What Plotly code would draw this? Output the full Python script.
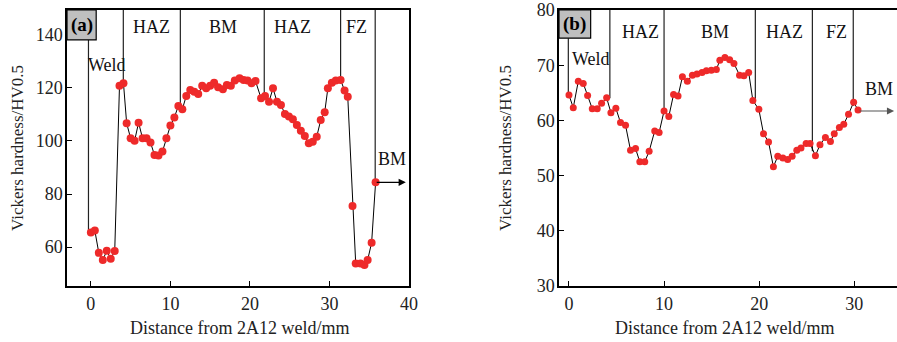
import plotly.graph_objects as go

# ---------------- data ----------------
# Panel (a)
dist_a = [0, 0.5, 1.0, 1.5, 2.0, 2.5, 3.0, 3.6, 4.1, 4.5, 5.0, 5.5, 6.0, 6.5, 7.0, 7.5,
          8.0, 8.5, 9.0, 9.5, 10.0, 10.5, 11.0, 11.5, 12.0, 12.5, 13.0, 13.5, 14.0, 14.5,
          15.0, 15.5, 16.0, 16.6, 17.1, 17.6, 18.1, 18.7, 19.2, 19.7, 20.2, 20.7, 21.4,
          21.9, 22.4, 22.9, 23.4, 23.9, 24.4, 24.9, 25.4, 25.9, 26.4, 26.9, 27.4, 27.9,
          28.4, 28.9, 29.4, 29.8, 30.3, 30.8, 31.4, 31.9, 32.3, 32.9, 33.3, 33.9, 34.4,
          34.8, 35.3, 35.8]
hv_a = [65.5, 66.2, 57.8, 55.1, 58.6, 55.6, 58.5, 120.8, 121.8, 106.7, 101.0, 100.1,
        106.9, 101.0, 101.0, 99.4, 94.7, 94.5, 96.0, 101.0, 105.8, 108.9, 113.2, 112.0,
        117.0, 119.2, 118.6, 117.7, 120.8, 119.9, 120.8, 122.0, 120.3, 119.5, 121.1,
        120.8, 122.8, 123.7, 123.0, 122.8, 121.8, 122.6, 116.1, 117.0, 114.8, 119.9,
        114.8, 113.6, 110.2, 109.2, 108.2, 106.0, 103.9, 101.9, 99.1, 99.7, 101.6, 107.9,
        110.8, 119.9, 122.0, 122.8, 123.0, 119.0, 116.7, 75.5, 53.8, 53.8, 53.2, 55.1,
        61.6, 84.4]

# Panel (b)
dist_b = [0, 0.45, 0.98, 1.5, 1.96, 2.45, 2.97, 3.43, 3.96, 4.41, 4.93, 5.42, 5.95, 6.47,
          7.0, 7.45, 7.97, 8.43, 9.02, 9.48, 10.0, 10.5, 11.0, 11.47, 11.93, 12.45, 12.98,
          13.46, 13.99, 14.45, 14.97, 15.5, 15.87, 16.4, 16.9, 17.35, 17.94, 18.4, 18.9,
          19.34, 19.97, 20.46, 20.99, 21.5, 21.96, 22.5, 23.0, 23.47, 23.96, 24.4, 24.94,
          25.36, 25.92, 26.4, 26.97, 27.5, 27.9, 28.44, 28.9, 29.4, 29.94, 30.4]
hv_b = [64.6, 62.3, 67.1, 66.7, 64.5, 62.1, 62.1, 63.1, 64.1, 61.4, 62.2, 59.6, 59.1,
        54.6, 54.9, 52.5, 52.5, 54.4, 58.1, 57.8, 61.7, 60.7, 64.7, 64.4, 67.9, 67.1,
        68.2, 68.4, 68.7, 69.0, 69.1, 69.2, 70.9, 71.4, 71.0, 70.3, 68.2, 68.1, 68.7,
        63.6, 62.0, 57.6, 56.1, 51.6, 53.5, 53.2, 52.9, 53.5, 54.6, 55.0, 55.8, 55.8,
        53.6, 55.6, 56.9, 56.2, 57.6, 58.7, 59.3, 61.1, 63.3, 61.9]

# zone boundary positions (mm) and the hardness where each marker line ends
bounds_a = [-0.3, 4.08, 11.25, 21.8, 31.4, 35.75]
bound_end_a = [65.5, 121.8, 114.3, 116.6, 123.0, 84.5]
bounds_b = [-0.07, 4.3, 10.0, 19.6, 25.6, 29.9]
bound_end_b = [64.6, 64.0, 62.0, 63.8, 54.4, 62.6]

zone_labels_a = ["Weld", "HAZ", "BM", "HAZ", "FZ", "BM"]
zone_labels_b = ["Weld", "HAZ", "BM", "HAZ", "FZ", "BM"]

x_ticks_a = [0, 10, 20, 30, 40]
y_ticks_a = [60, 80, 100, 120, 140]
x_ticks_b = [0, 10, 20, 30]
y_ticks_b = [30, 40, 50, 60, 70, 80]

# ---------------- styling / layout ----------------
W, H = 897, 342
FONT = "Liberation Serif, Times New Roman, serif"
RED = "#ee2a2a"


def fx(px):
    return px / W


def fy(py):
    return 1 - py / H


xr_a = [-3, 40]
yr_a = [45.3, 149.4]
xr_b = [-1.05, 34.5]
yr_b = [30, 80]

dom_a = [fx(67), fx(409)]
dom_b = [fx(559), 1.0]
dom_y = [fy(286), fy(10)]

fig = go.Figure()

fig.add_trace(go.Scatter(x=dist_a, y=hv_a, mode="lines+markers", xaxis="x", yaxis="y",
                         line=dict(color="black", width=1),
                         marker=dict(color=RED, size=8), showlegend=False))
fig.add_trace(go.Scatter(x=dist_b, y=hv_b, mode="lines+markers", xaxis="x2", yaxis="y2",
                         line=dict(color="black", width=1),
                         marker=dict(color=RED, size=7), showlegend=False))

shapes = []
annotations = []

# boundary lines
for i, (bx, be) in enumerate(zip(bounds_a, bound_end_a)):
    top = 138.1 if i == 0 else yr_a[1]
    shapes.append(dict(type="line", xref="x", yref="y", x0=bx, x1=bx, y0=be, y1=top,
                       line=dict(color="#222", width=1.2), layer="below"))
for i, (bx, be) in enumerate(zip(bounds_b, bound_end_b)):
    top = 74.9 if i == 0 else yr_b[1]
    shapes.append(dict(type="line", xref="x2", yref="y2", x0=bx, x1=bx, y0=be, y1=top,
                       line=dict(color="#222", width=1.2), layer="below"))

# panel label boxes
shapes.append(dict(type="rect", xref="x", yref="y", x0=xr_a[0], x1=0.67, y0=138.1, y1=yr_a[1],
                   fillcolor="#bfbfbf", line=dict(color="black", width=1.2)))
shapes.append(dict(type="rect", xref="x2", yref="y2", x0=xr_b[0], x1=2.28, y0=74.9, y1=yr_b[1],
                   fillcolor="#bfbfbf", line=dict(color="black", width=1.2)))
annotations.append(dict(xref="x", yref="y", x=(xr_a[0] + 0.67) / 2, y=(138.1 + yr_a[1]) / 2,
                        text="<b>(a)</b>", showarrow=False, xanchor="center", yanchor="middle",
                        font=dict(family=FONT, size=19, color="black")))
annotations.append(dict(xref="x2", yref="y2", x=(xr_b[0] + 2.28) / 2, y=(74.9 + yr_b[1]) / 2,
                        text="<b>(b)</b>", showarrow=False, xanchor="center", yanchor="middle",
                        font=dict(family=FONT, size=19, color="black")))

# zone labels
pos_a = [(2.05, 128.7), (7.66, 143.0), (16.6, 143.0), (25.4, 143.0), (33.4, 143.0), (37.9, 93.2)]
pos_b = [(2.3, 71.1), (7.5, 76.0), (15.4, 76.0), (22.7, 76.0), (28.1, 76.0), (32.6, 65.6)]
for t, (px, py) in zip(zone_labels_a, pos_a):
    annotations.append(dict(xref="x", yref="y", x=px, y=py, text=t, showarrow=False,
                            xanchor="center", yanchor="middle",
                            font=dict(family=FONT, size=18, color="#111")))
for t, (px, py) in zip(zone_labels_b, pos_b):
    annotations.append(dict(xref="x2", yref="y2", x=px, y=py, text=t, showarrow=False,
                            xanchor="center", yanchor="middle",
                            font=dict(family=FONT, size=18, color="#111")))

# arrows
annotations.append(dict(xref="x", yref="y", axref="x", ayref="y",
                        x=39.6, y=hv_a[-1], ax=bounds_a[-1], ay=hv_a[-1], text="",
                        showarrow=True, arrowhead=2, arrowsize=1.2, arrowwidth=1.2,
                        arrowcolor="black"))
annotations.append(dict(xref="x2", yref="y2", axref="x2", ayref="y2",
                        x=34.2, y=61.7, ax=dist_b[-1], ay=61.7, text="",
                        showarrow=True, arrowhead=2, arrowsize=1.2, arrowwidth=1.2,
                        arrowcolor="#555"))

# axis titles
for cx in [fx(239), fx(724)]:
    annotations.append(dict(xref="paper", yref="paper", x=cx, y=fy(328),
                            xanchor="center", yanchor="middle",
                            text="Distance from 2A12 weld/mm", showarrow=False,
                            font=dict(family=FONT, size=18, color="#222")))
for cx in [fx(17), fx(505)]:
    annotations.append(dict(xref="paper", yref="paper", x=cx, y=(dom_y[0] + dom_y[1]) / 2,
                            xanchor="center", yanchor="middle",
                            text="Vickers hardness/HV0.5", textangle=-90, showarrow=False,
                            font=dict(family=FONT, size=17, color="#222")))

axis_common = dict(showgrid=False, zeroline=False, showline=True, linecolor="black",
                   linewidth=1.5, ticks="inside", ticklen=5, tickwidth=1.2,
                   tickcolor="black", automargin=False,
                   tickfont=dict(family=FONT, size=18, color="#222"))

fig.update_layout(
    width=W, height=H, margin=dict(l=0, r=0, t=0, b=0),
    paper_bgcolor="white", plot_bgcolor="white",
    shapes=shapes, annotations=annotations,
    xaxis=dict(domain=dom_a, range=xr_a, tickvals=x_ticks_a, mirror=True, anchor="y",
               ticklabelstandoff=1, **axis_common),
    yaxis=dict(domain=dom_y, range=yr_a, tickvals=y_ticks_a, mirror=True, anchor="x",
               ticklabelstandoff=-1, **axis_common),
    xaxis2=dict(domain=dom_b, range=xr_b, tickvals=x_ticks_b, mirror=True, anchor="y2",
                ticklabelstandoff=1, **axis_common),
    yaxis2=dict(domain=dom_y, range=yr_b, tickvals=y_ticks_b, mirror=False, anchor="x2",
                ticklabelstandoff=-1, **axis_common),
)

# remove the default page margin so the figure sits at the window's top-left corner
fig.write_html("out.html", config={"displayModeBar": False},
               post_script="document.body.style.margin='0';document.body.style.overflow='hidden';")
